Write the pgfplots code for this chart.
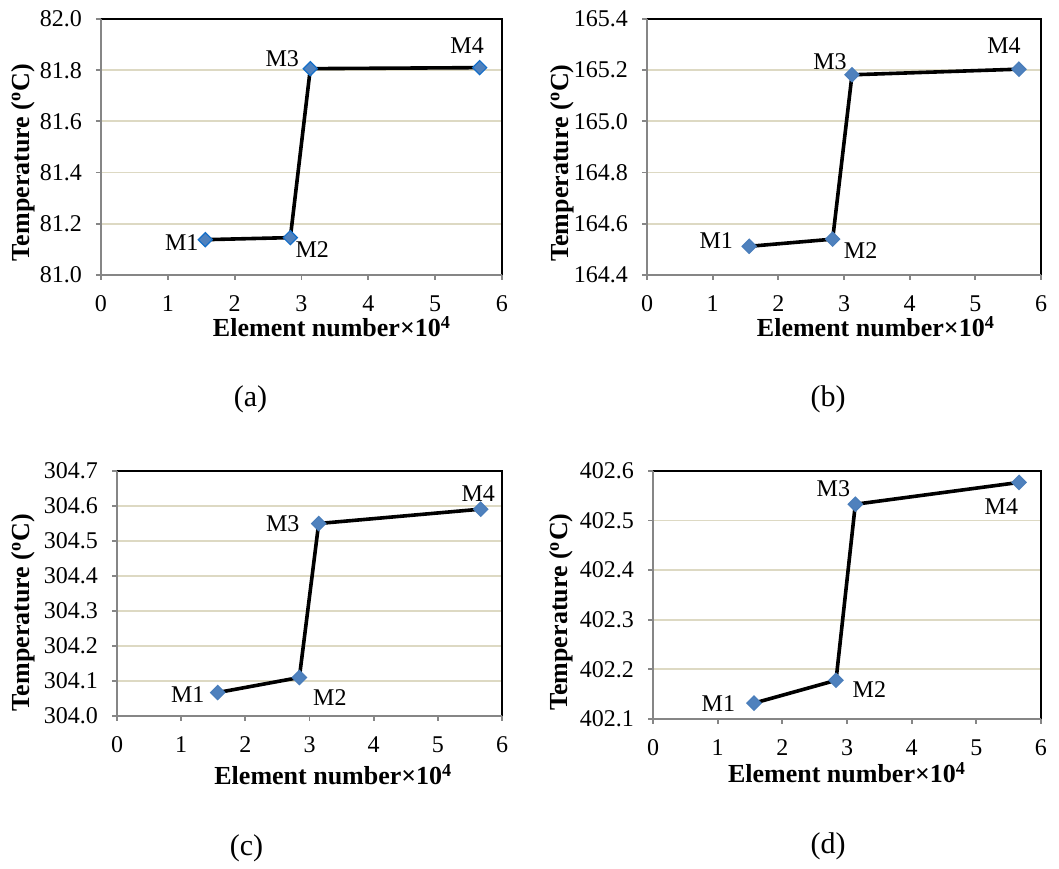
\documentclass[border=0pt]{standalone}
\usepackage{fontspec}
\setmainfont{Liberation Serif}
\usepackage{pgfplots}
\pgfplotsset{compat=1.18}
\definecolor{gridtan}{RGB}{221,217,195}
\definecolor{framegray}{RGB}{134,134,134}
\definecolor{markblue}{RGB}{79,129,189}
\definecolor{edgeblue}{RGB}{20,110,200}
\definecolor{edgeplain}{RGB}{74,126,187}

\newcommand{\ticksize}{\fontsize{12}{14}\selectfont}
\newcommand{\labsize}{\fontsize{12}{14}\selectfont}
\newcommand{\capsize}{\fontsize{15}{17}\selectfont}

\pgfplotsset{
  panel/.style={
    anchor=south west, scale only axis,
    xmin=0, xmax=6, xtick={0,1,...,6},
    clip=false,
    axis line style={draw=none},
    tick pos=left, tick align=outside,
    major tick length=2.5pt,
    tick style={framegray, line width=0.9pt},
    ymajorgrids, grid style={gridtan, line width=0.9pt},
    scaled y ticks=false,
    /pgf/number format/assume math mode=true,
    yticklabel style={xshift=-3.5pt, /pgf/number format/fixed,
      /pgf/number format/fixed zerofill, /pgf/number format/precision=1},
    xticklabel style={inner sep=0pt, yshift=-7.5pt},
    tick label style={font=\ticksize},
    label style={font=\fontsize{13}{15}\selectfont\bfseries, inner sep=0pt},
    xlabel={Element number×10\textsuperscript{4}},
    ylabel={Temperature (\textsuperscript{o}C)},
  },
  series/.style={black, line width=1.8pt, mark=square*, mark size=2.5pt,
    mark options={solid, rotate=45, fill=markblue, draw=#1, line width=0.6pt}},
  series/.default=edgeplain,
}
\newcommand{\drawframe}{%
  \draw[black, line width=1.1pt] (rel axis cs:0,1) -- (rel axis cs:1,1) -- (rel axis cs:1,0);
  \draw[framegray, line width=1.1pt] (rel axis cs:1,0) -- (rel axis cs:0,0) -- (rel axis cs:0,1);
}
\newcommand{\lab}[4]{\node[font=\labsize, xshift=#3pt, yshift=#4pt] at (axis cs:#1) {#2};}

\begin{document}
\begin{tikzpicture}
\path[use as bounding box] (0,0) rectangle (529.5pt,434pt);

%% (a)
\begin{axis}[panel, at={(50.5pt,296.5pt)}, width=200.5pt, height=128pt,
  ymin=81.0, ymax=82.0, ytick distance=0.2,
  xlabel style={at={(axis description cs:0.576,-0.2420)}, anchor=base},
  ylabel style={at={(axis description cs:-0.195,0.439)}, anchor=center},
]
\drawframe
\addplot[series=edgeblue] coordinates {(1.561,81.138)(2.833,81.146)(3.132,81.806)(5.666,81.810)};
\lab{1.561,81.138}{M1}{-11.75}{-1.25}
\lab{2.833,81.146}{M2}{11}{-5.75}
\lab{3.132,81.806}{M3}{-14}{4.75}
\lab{5.666,81.810}{M4}{-6.25}{11.25}
\end{axis}

%% (b)
\begin{axis}[panel, at={(323.5pt,296.5pt)}, width=197pt, height=128pt,
  ymin=164.4, ymax=165.4, ytick distance=0.2,
  xlabel style={at={(axis description cs:0.581,-0.2420)}, anchor=base},
  ylabel style={at={(axis description cs:-0.216,0.4375)}, anchor=center},
]
\drawframe
\addplot[series] coordinates {(1.556,164.512)(2.827,164.540)(3.122,165.182)(5.664,165.204)};
\lab{1.556,164.512}{M1}{-16.5}{3}
\lab{2.827,164.540}{M2}{14}{-5.5}
\lab{3.122,165.182}{M3}{-11}{6.75}
\lab{5.664,165.204}{M4}{-7.5}{12}
\end{axis}

%% (c)
\begin{axis}[panel, at={(58.5pt,76pt)}, width=192.5pt, height=122.5pt,
  ymin=304.0, ymax=304.7, ytick distance=0.1,
  xlabel style={at={(axis description cs:0.562,-0.2816)}, anchor=base},
  ylabel style={at={(axis description cs:-0.244,0.422)}, anchor=center},
]
\drawframe
\addplot[series] coordinates {(1.569,304.067)(2.842,304.110)(3.143,304.550)(5.668,304.591)};
\lab{1.569,304.067}{M1}{-15}{-1}
\lab{2.842,304.110}{M2}{15.25}{-10.25}
\lab{3.143,304.550}{M3}{-18}{0}
\lab{5.668,304.591}{M4}{-1.2}{8}
\end{axis}

%% (d)
\begin{axis}[panel, at={(326.5pt,74.5pt)}, width=194pt, height=124pt,
  ymin=402.1, ymax=402.6, ytick distance=0.1,
  xlabel style={at={(axis description cs:0.5,-0.258)}, anchor=base},
  ylabel style={at={(axis description cs:-0.236,0.431)}, anchor=center},
]
\drawframe
\addplot[series] coordinates {(1.562,402.132)(2.830,402.178)(3.129,402.533)(5.660,402.577)};
\lab{1.562,402.132}{M1}{-17.8}{0}
\lab{2.830,402.178}{M2}{16.7}{-4.7}
\lab{3.129,402.533}{M3}{-11}{7.75}
\lab{5.660,402.577}{M4}{-8.8}{-12.25}
\end{axis}

\node[font=\capsize] at (125.25pt,234.5pt) {(a)};
\node[font=\capsize] at (414pt,234.5pt) {(b)};
\node[font=\capsize] at (123.25pt,9.75pt) {(c)};
\node[font=\capsize] at (414pt,11pt) {(d)};
\end{tikzpicture}
\end{document}
